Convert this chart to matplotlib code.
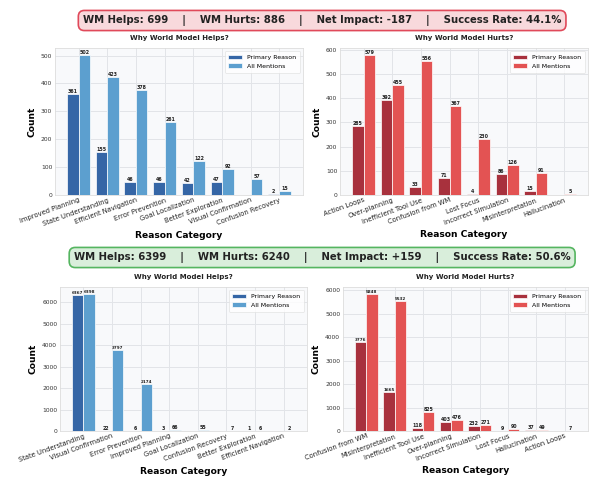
import matplotlib
matplotlib.use('Agg')
import matplotlib.pyplot as plt
import numpy as np

# ---- data: top (failing run) ----
top_help_cats = ['Improved Planning', 'State Understanding', 'Efficient Navigation',
                 'Error Prevention', 'Goal Localization', 'Better Exploration',
                 'Visual Confirmation', 'Confusion Recovery']
top_help_primary = [361, 155, 46, 46, 42, 47, 0, 2]
top_help_all = [502, 423, 378, 261, 122, 92, 57, 15]

top_hurt_cats = ['Action Loops', 'Over-planning', 'Inefficient Tool Use',
                 'Confusion from WM', 'Lost Focus', 'Incorrect Simulation',
                 'Misinterpretation', 'Hallucination']
top_hurt_primary = [285, 392, 33, 71, 4, 86, 15, 0]
top_hurt_all = [579, 455, 556, 367, 230, 126, 91, 5]

top_summary = {'helps': 699, 'hurts': 886, 'net': '-187', 'rate': '44.1%'}

# ---- data: bottom (successful run) ----
bot_help_cats = ['State Understanding', 'Visual Confirmation', 'Error Prevention',
                 'Improved Planning', 'Goal Localization', 'Confusion Recovery',
                 'Better Exploration', 'Efficient Navigation']
bot_help_primary = [6367, 22, 6, 3, 0, 0, 1, 0]
bot_help_all = [6398, 3797, 2174, 66, 55, 7, 6, 2]

bot_hurt_cats = ['Confusion from WM', 'Misinterpretation', 'Inefficient Tool Use',
                 'Over-planning', 'Incorrect Simulation', 'Lost Focus',
                 'Hallucination', 'Action Loops']
bot_hurt_primary = [3776, 1665, 118, 403, 232, 9, 37, 0]
bot_hurt_all = [5848, 5532, 825, 476, 271, 90, 49, 7]

bot_summary = {'helps': 6399, 'hurts': 6240, 'net': '+159', 'rate': '50.6%'}

BLUE_DARK, BLUE_LIGHT = '#3566a6', '#5c9fcf'
RED_DARK, RED_LIGHT = '#a8313d', '#e35353'

plt.rcParams['font.family'] = 'DejaVu Sans'


def draw_panel(ax, cats, primary, allm, c1, c2, title):
    x = np.arange(len(cats))
    w = 0.4
    ax.set_facecolor('#f8f9fb')
    ax.set_axisbelow(True)
    ax.grid(True, color='#e2e4e8', linewidth=0.7)
    b1 = ax.bar(x - 0.2, primary, w, color=c1, edgecolor='white', linewidth=0.5,
                label='Primary Reason')
    b2 = ax.bar(x + 0.2, allm, w, color=c2, edgecolor='white', linewidth=0.5,
                label='All Mentions')
    for bars in (b1, b2):
        for b in bars:
            h = b.get_height()
            if h > 0:
                # 4-digit counts get a slightly smaller label so pairs don't collide
                fs = 3.4 if h < 1000 else 3.0
                ax.text(b.get_x() + b.get_width() / 2, h, f'{int(h)}',
                        ha='center', va='bottom', fontsize=fs,
                        fontweight='bold', color='#222222')
    ax.set_xticks(x)
    ax.set_xticklabels(cats, rotation=20, ha='right', fontsize=4.9,
                       rotation_mode='anchor')
    ax.tick_params(axis='y', labelsize=4.3, length=0, pad=2, colors='#333333')
    ax.tick_params(axis='x', length=0, pad=1.5, colors='#222222')
    ax.set_xlim(-0.82, len(cats) - 0.18)
    ax.set_ylim(0, max(allm) * 1.05)
    for s in ax.spines.values():
        s.set_color('#dddddd')
        s.set_linewidth(0.6)
    ax.set_title(title, fontsize=5, fontweight='bold', pad=6, color='#222222')
    ax.set_xlabel('Reason Category', fontsize=6.6, fontweight='bold', labelpad=3)
    ax.set_ylabel('Count', fontsize=6.6, fontweight='bold', labelpad=3)
    leg = ax.legend(fontsize=4.5, loc='upper right', frameon=True,
                    handlelength=2.2, borderpad=0.6, labelspacing=0.5)
    leg.get_frame().set_edgecolor('#dddddd')
    leg.get_frame().set_linewidth(0.5)


def banner(fig, y, s, fc, ec):
    txt = (f"WM Helps: {s['helps']}    |    WM Hurts: {s['hurts']}    |    "
           f"Net Impact: {s['net']}    |    Success Rate: {s['rate']}")
    fig.text(0.546, y, txt, ha='center', va='center', fontsize=7.3,
             fontweight='bold', color='#222222',
             bbox=dict(boxstyle='round,pad=0.45,rounding_size=0.6',
                       facecolor=fc, edgecolor=ec, linewidth=1.2))


fig = plt.figure(figsize=(5.9, 4.78), dpi=100)
W, H = 590, 478


def axes_px(l, t, r, b):
    return fig.add_axes([l / W, 1 - b / H, (r - l) / W, (b - t) / H])


ax1 = axes_px(55, 48, 303, 195)
ax2 = axes_px(340, 48, 588, 195)
ax3 = axes_px(60, 287, 307, 431)
ax4 = axes_px(343, 287, 588, 431)

draw_panel(ax1, top_help_cats, top_help_primary, top_help_all,
           BLUE_DARK, BLUE_LIGHT, 'Why World Model Helps?')
draw_panel(ax2, top_hurt_cats, top_hurt_primary, top_hurt_all,
           RED_DARK, RED_LIGHT, 'Why World Model Hurts?')
draw_panel(ax3, bot_help_cats, bot_help_primary, bot_help_all,
           BLUE_DARK, BLUE_LIGHT, 'Why World Model Helps?')
draw_panel(ax4, bot_hurt_cats, bot_hurt_primary, bot_hurt_all,
           RED_DARK, RED_LIGHT, 'Why World Model Hurts?')

banner(fig, 1 - 20.5 / H, top_summary, '#f8d9dc', '#e0495a')
banner(fig, 1 - 257.5 / H, bot_summary, '#d9eedb', '#55b560')

fig.savefig('out.png', dpi=100, facecolor='white')
